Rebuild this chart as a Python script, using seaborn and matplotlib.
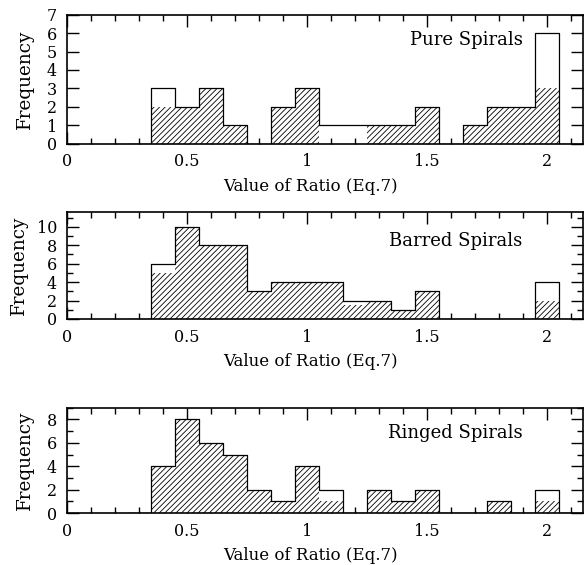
import numpy as np
import pandas as pd
import seaborn as sns
import matplotlib
matplotlib.use("Agg")
import matplotlib.pyplot as plt
from matplotlib.ticker import MultipleLocator

# ---- data (bin centres, width 0.1) ----
bin_centers = [0.4, 0.5, 0.6, 0.7, 0.8, 0.9, 1.0, 1.1, 1.2, 1.3, 1.4, 1.5, 1.6, 1.7, 1.8, 1.9, 2.0]
pure_total = [3, 2, 3, 1, 0, 2, 3, 1, 1, 1, 1, 2, 0, 1, 2, 2, 6]
pure_hatch = [2, 2, 3, 1, 0, 2, 3, 0, 0, 1, 1, 2, 0, 1, 2, 2, 3]
barred_total = [6, 10, 8, 8, 3, 4, 4, 4, 2, 2, 1, 3, 0, 0, 0, 0, 4]
barred_hatch = [5, 10, 8, 8, 3, 4, 4, 4, 1.5, 2, 1, 3, 0, 0, 0, 0, 2]
ringed_total = [4, 8, 6, 5, 2, 1, 4, 2, 0, 2, 1, 2, 0, 0, 1, 0, 2]
ringed_hatch = [4, 8, 6, 5, 2, 1, 4, 1, 0, 2, 1, 2, 0, 0, 1, 0, 1]
panel_titles = ["Pure Spirals", "Barred Spirals", "Ringed Spirals"]
x_label = "Value of Ratio (Eq.7)"
y_label = "Frequency"
x_tick_labels = ["0", "0.5", "1", "1.5", "2"]

# bins of width 0.1; one empty bin on each side so the outline drops to zero
bin_edges = [round(0.25 + 0.1 * k, 2) for k in range(20)]

sns.set_style("ticks")
plt.rcParams["font.family"] = ["DejaVu Serif"]
plt.rcParams["hatch.linewidth"] = 0.6
plt.rcParams["text.color"] = "black"
plt.rcParams["axes.labelcolor"] = "black"

fig = plt.figure(figsize=(5.86, 5.65), dpi=100)
L, W = 0.1138, 0.8806
rects = [(L, 0.7457, W, 0.2283), (L, 0.4354, W, 0.1894), (L, 0.0920, W, 0.1864)]
ylims = [7, 11.6, 9]
ymaj = [1, 2, 2]
ymin = [1, 1, 1]
text_y = [5.63, 8.5, 6.84]
ylabel_pad = [9, 6, 9]
xlabel_y = [-0.265, -0.32, -0.32]

panels = [(pure_total, pure_hatch), (barred_total, barred_hatch), (ringed_total, ringed_hatch)]

for i, (tot, hat) in enumerate(panels):
    ax = fig.add_axes(rects[i])
    df = pd.DataFrame({"x": bin_centers, "total": tot, "hatch": hat})
    sns.histplot(data=df, x="x", weights="hatch", bins=bin_edges, element="bars",
                 fill=True, facecolor="white", edgecolor="black", linewidth=0,
                 hatch="//////", ax=ax)
    sns.histplot(data=df, x="x", weights="total", bins=bin_edges, element="step",
                 fill=False, color="black", linewidth=0.9, ax=ax)
    ax.set_xlim(0, 2.15)
    ax.set_ylim(0, ylims[i])
    ax.yaxis.set_major_locator(MultipleLocator(ymaj[i]))
    ax.yaxis.set_minor_locator(MultipleLocator(ymin[i]))
    ax.set_xticks([0, 0.5, 1, 1.5, 2])
    ax.set_xticklabels(x_tick_labels)
    ax.xaxis.set_minor_locator(MultipleLocator(0.1))
    ax.tick_params(which="both", direction="in", top=True, right=True,
                   labelsize=11.5, width=1.0, colors="black")
    ax.tick_params(which="major", length=8.5, pad=7)
    ax.tick_params(which="minor", length=4.3)
    for s in ax.spines.values():
        s.set_linewidth(1.2)
        s.set_color("black")
    ax.set_xlabel(x_label, fontsize=12, labelpad=4, color="black")
    ax.xaxis.set_label_coords(0.4715, xlabel_y[i])
    ax.set_ylabel(y_label, fontsize=13.2, labelpad=ylabel_pad[i], color="black")
    ax.text(1.90, text_y[i], panel_titles[i], ha="right", va="center",
            fontsize=13, color="black")

fig.savefig("out.png", dpi=100)
